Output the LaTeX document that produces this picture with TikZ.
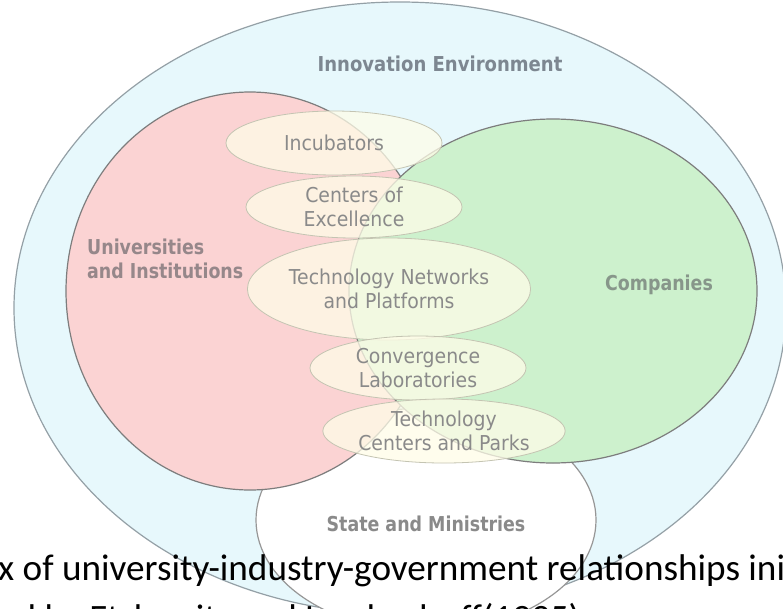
\documentclass[tikz,border=0pt]{standalone}
\usepackage{fontspec}
\setmainfont{Carlito}
\newfontfamily\lblfont[FakeStretch=0.92]{DejaVu Sans}
\newfontfamily\lblbfont[FakeStretch=0.85]{DejaVu Sans Bold}
\newfontfamily\envfont[FakeStretch=0.88]{DejaVu Sans Bold}
\usetikzlibrary{shapes.geometric}
\definecolor{envfill}{RGB}{231,248,252}
\definecolor{envline}{RGB}{148,160,166}
\definecolor{unifill}{RGB}{251,211,211}
\definecolor{compfill}{RGB}{205,241,205}
\definecolor{smallfill}{RGB}{255,253,232}
\definecolor{smallline}{RGB}{196,196,178}
\definecolor{bigline}{RGB}{125,125,125}
\definecolor{lbltext}{RGB}{138,138,138}
\definecolor{envtext}{RGB}{125,135,145}
\definecolor{unitext}{RGB}{150,135,138}
\definecolor{comptext}{RGB}{135,150,138}
\tikzset{
  bigell/.style={ellipse, inner sep=0pt, line width=1.2pt, draw=bigline},
  smallell/.style={ellipse, inner sep=0pt, line width=0.8pt, draw=smallline,
    fill=smallfill, fill opacity=0.75, text opacity=1, text=lbltext, align=center,
    font=\lblfont\fontsize{20.5}{23.5}\selectfont},
  biglbl/.style={font=\lblbfont\fontsize{20.5}{24}\selectfont, inner sep=0pt},
  captxt/.style={anchor=base west, inner sep=0pt, font=\fontsize{37.2}{44}\selectfont},
}
\begin{document}
\begin{tikzpicture}[x=1pt,y=-1pt]
\useasboundingbox (0,0) rectangle (783,608);
\clip (0,0) rectangle (783,608);
\fill[white] (0,0) rectangle (783,608);
% environment
\node[ellipse, inner sep=0pt, line width=1.2pt, draw=envline, fill=envfill,
  minimum width=772pt, minimum height=612pt] (env) at (400,308) {};
\node[inner sep=0pt, font=\envfont\fontsize{20.5}{24}\selectfont, text=envtext, anchor=base] (envlbl) at (440,71) {Innovation Environment};
% state
\node[bigell, fill=white, draw=bigline!80, minimum width=340pt, minimum height=224pt] (state) at (426,520) {};
% universities and companies
\node[bigell, fill=unifill, minimum width=368pt, minimum height=398pt] (univ) at (250,291) {};
\node[bigell, fill=compfill, minimum width=408pt, minimum height=344pt] (comp) at (553,291) {};
% small ellipses
\node[smallell, minimum width=216pt, minimum height=64pt] (incub) at (334,143) {Incubators};
\node[smallell, minimum width=216pt, minimum height=62pt] (coe) at (354,207) {Centers of\\Excellence};
\node[smallell, minimum width=256pt, minimum height=102pt] (tnp) at (389,289) {Technology Networks\\and Platforms};
\node[smallell, minimum width=216pt, minimum height=64pt] (conv) at (418,368) {Convergence\\Laboratories};
\node[smallell, minimum width=216pt, minimum height=64pt] (tcp) at (444,431) {Technology\\Centers and Parks};
% labels
\node[biglbl, text=unitext, anchor=base west, align=left] (unilbl) at (87,278) {Universities\\and Institutions};
\node[biglbl, text=comptext, anchor=base] (complbl) at (659,290) {Companies};
\node[biglbl, text=lbltext, anchor=base] (statelbl) at (426,531) {State and Ministries};
% caption
\node[captxt] (cap1) at (-2,580) {x of university-industry-government relationships ini};
\node[captxt] (cap2) at (-2,630) {ed by Etzkowitz and Leydesdorff(1995) as a source and the centre of};
\end{tikzpicture}
\end{document}
